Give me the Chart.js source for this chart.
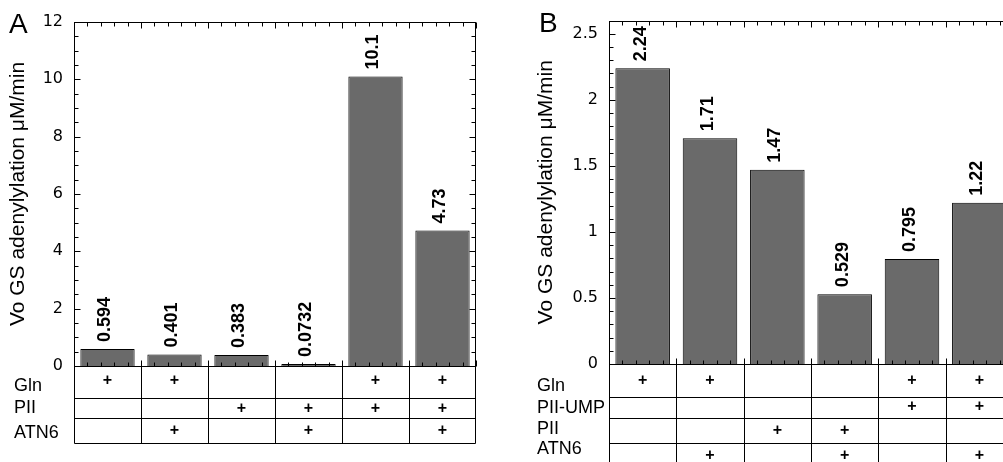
<!DOCTYPE html>
<html>
<head>
<meta charset="utf-8">
<script src="https://cdn.jsdelivr.net/npm/chart.js@4.4.0/dist/chart.umd.min.js"></script>
<style>
  html, body { margin: 0; padding: 0; background: #fff; overflow: hidden; }
  body { width: 1003px; height: 462px; position: relative; }
  .panel { position: absolute; top: 0; height: 462px; }
  #boxA { left: 0; width: 490px; }
  #boxB { left: 520px; width: 510px; }
  .tag { position: absolute; font: 28px 'Liberation Sans', Arial, sans-serif; line-height: 1; }
</style>
</head>
<body>
<div class="panel" id="boxA"><canvas id="chartA" width="490" height="462"></canvas></div>
<div class="panel" id="boxB"><canvas id="chartB" width="510" height="462"></canvas></div>
<div class="tag" style="left:9px; top:10px;">A</div>
<div class="tag" style="left:539px; top:9px;">B</div>
<script>
// ---- data ----
const yTitle = 'Vo GS adenylylation \u03bcM/min';

const valuesA = [0.594, 0.401, 0.383, 0.0732, 10.1, 4.73];
const yTicksA = [0, 2, 4, 6, 8, 10, 12];
const rowsA = ['Gln', 'PII', 'ATN6'];
const glnA  = [1, 1, 0, 0, 1, 1];
const piiA  = [0, 0, 1, 1, 1, 1];
const atn6A = [0, 1, 0, 1, 0, 1];

const valuesB = [2.24, 1.71, 1.47, 0.529, 0.795, 1.22];
const yTicksB = [0, 0.5, 1, 1.5, 2, 2.5];
const rowsB = ['Gln', 'PII-UMP', 'PII', 'ATN6'];
const glnB    = [1, 1, 0, 0, 1, 1];
const piiUmpB = [0, 0, 0, 0, 1, 1];
const piiB    = [0, 0, 1, 1, 0, 0];
const atn6B   = [0, 1, 0, 1, 0, 1];

Chart.defaults.color = '#000';
Chart.defaults.font.family = "'Liberation Sans', Arial, sans-serif";

// frame with inward ticks on all four sides
const framePlugin = {
    id: 'frame',
    afterDatasetsDraw(chart, args, o) {
        const { ctx, chartArea: a, scales: { y } } = chart;
        ctx.save();
        ctx.strokeStyle = '#000';
        ctx.lineWidth = 1;
        const L = Math.round(a.left) + 0.5, R = Math.round(a.right) - 0.5;
        const T = Math.round(a.top) + 0.5, B = Math.round(a.bottom) + 0.5;
        ctx.strokeRect(L, T, R - L, B - T);
        ctx.beginPath();
        const nMinor = Math.round(y.max / o.minorY);
        for (let i = 0; i <= nMinor; i++) {
            const py = Math.round(y.getPixelForValue(i * o.minorY)) + 0.5;
            const len = (i % o.perMajor === 0) ? 6 : 4;
            ctx.moveTo(L, py); ctx.lineTo(L + len, py);
            ctx.moveTo(R, py); ctx.lineTo(R - len, py);
        }
        const n = chart.data.labels.length;
        const cw = (a.right - a.left) / n;
        for (let i = 0; i <= n * 5; i++) {
            const px = Math.round(a.left + i * cw / 5) + 0.5;
            const len = (i % 5 === 0) ? 6 : 4;
            ctx.moveTo(px, T); ctx.lineTo(px, T + len);
            ctx.moveTo(px, B); ctx.lineTo(px, B - len);
        }
        ctx.stroke();
        ctx.restore();
    }
};

// rotated value labels above bars
const valuePlugin = {
    id: 'values',
    afterDatasetsDraw(chart) {
        const { ctx } = chart;
        const meta = chart.getDatasetMeta(0);
        const data = chart.data.datasets[0].data;
        ctx.save();
        ctx.fillStyle = '#000';
        ctx.font = "bold 18px 'Liberation Sans Narrow', 'Arial Narrow', 'Liberation Sans', sans-serif";
        ctx.textAlign = 'left';
        ctx.textBaseline = 'middle';
        meta.data.forEach((bar, i) => {
            ctx.save();
            ctx.translate(bar.x - 2, bar.y - 7);
            ctx.rotate(-Math.PI / 2);
            ctx.fillText(String(data[i]), 0, 0);
            ctx.restore();
        });
        ctx.restore();
    }
};

// condition table under the x axis
const tablePlugin = {
    id: 'table',
    afterDraw(chart, args, o) {
        const { ctx, chartArea: a, scales: { x } } = chart;
        const n = chart.data.labels.length;
        const cw = (a.right - a.left) / n;
        const B = Math.round(a.bottom) + 0.5;
        const L = Math.round(a.left) + 0.5, R = Math.round(a.right) - 0.5;
        const bottom = B + o.height;
        ctx.save();
        ctx.strokeStyle = '#000';
        ctx.lineWidth = 1;
        ctx.beginPath();
        ctx.moveTo(L, B); ctx.lineTo(L, bottom);
        ctx.moveTo(R, B); ctx.lineTo(R, bottom);
        for (let i = 1; i < n; i++) {
            const px = Math.round(a.left + i * cw) + 0.5;
            ctx.moveTo(px, B - 5); ctx.lineTo(px, bottom);
        }
        o.lines.forEach(dy => {
            ctx.moveTo(L, B + dy); ctx.lineTo(R, B + dy);
        });
        ctx.stroke();

        ctx.fillStyle = '#000';
        ctx.textBaseline = 'middle';
        ctx.textAlign = 'left';
        ctx.font = "18px 'Liberation Sans', Arial, sans-serif";
        o.rows.forEach((name, r) => {
            ctx.fillText(name, o.labelX, B + o.labelY[r]);
        });
        ctx.textAlign = 'center';
        ctx.font = "bold 16px 'Liberation Sans', Arial, sans-serif";
        o.marks.forEach((row, r) => {
            row.forEach((m, i) => {
                if (m) ctx.fillText('+', x.getPixelForValue(i), B + o.plusY[r]);
            });
        });
        ctx.restore();
    }
};

function makeChart(id, values, yMax, yTicks, opts) {
    const labels = values.map((_, i) => 'c' + (i + 1));
    return new Chart(document.getElementById(id), {
        type: 'bar',
        data: {
            labels,
            datasets: [{
                data: values,
                backgroundColor: '#6a6a6a',
                borderColor: '#000',
                borderWidth: 1,
                barPercentage: 0.81,
                categoryPercentage: 1
            }]
        },
        options: {
            responsive: false,
            animation: false,
            layout: { padding: opts.padding },
            plugins: {
                legend: { display: false },
                tooltip: { enabled: false },
                frame: opts.frame,
                table: opts.table
            },
            scales: {
                x: { display: false },
                y: {
                    min: 0,
                    max: yMax,
                    afterFit: s => { s.width = opts.axisWidth; },
                    afterBuildTicks: s => { s.ticks = yTicks.map(v => ({ value: v })); },
                    grid: { display: false, drawTicks: false },
                    border: { display: false },
                    ticks: {
                        padding: 11,
                        callback: v => String(v),
                        font: { size: 16, family: "'DejaVu Sans', 'Liberation Sans', sans-serif" }
                    },
                    title: {
                        display: true,
                        text: yTitle,
                        font: { size: 21 },
                        padding: { top: opts.titlePad, bottom: 0 }
                    }
                }
            }
        },
        plugins: [framePlugin, valuePlugin, tablePlugin]
    });
}

makeChart('chartA', valuesA, 12, yTicksA, {
    padding: { top: 22, right: 14, bottom: 96, left: 0 },
    axisWidth: 74,
    titlePad: 6,
    frame: { minorY: 0.5, perMajor: 4 },
    table: {
        rows: rowsA,
        marks: [glnA, piiA, atn6A],
        lines: [32, 52, 77],
        height: 77,
        labelX: 14,
        labelY: [20, 42, 67],
        plusY: [14, 42, 64]
    }
});

makeChart('chartB', valuesB, 2.6, yTicksB, {
    padding: { top: 20, right: 17, bottom: 98, left: 0 },
    axisWidth: 89,
    titlePad: 14,
    frame: { minorY: 0.1, perMajor: 5 },
    table: {
        rows: rowsB,
        marks: [glnB, piiUmpB, piiB, atn6B],
        lines: [33, 54, 79],
        height: 120,
        labelX: 17,
        labelY: [22, 44, 65, 85],
        plusY: [16, 42, 66, 91]
    }
});
</script>
</body>
</html>
